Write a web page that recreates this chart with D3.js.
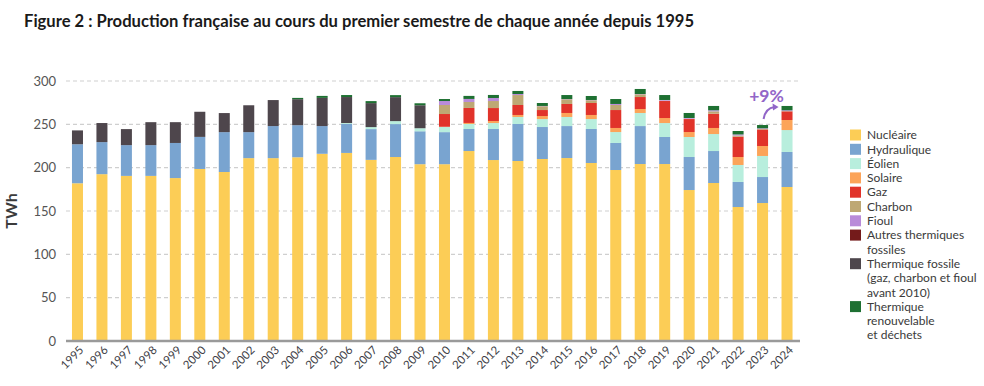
<!DOCTYPE html>
<html>
<head>
<meta charset="utf-8">
<script src="https://cdn.jsdelivr.net/npm/d3@7"></script>
<style>
  body { margin: 0; background: #fff; }
  svg text { font-family: Lato, "Open Sans", sans-serif; }
</style>
</head>
<body>
<div id="viz"></div>
<script>
// years and values (TWh)
var years = ["1995","1996","1997","1998","1999","2000","2001","2002","2003","2004",
  "2005","2006","2007","2008","2009","2010","2011","2012","2013","2014",
  "2015","2016","2017","2018","2019","2020","2021","2022","2023","2024"];

var nucleaire   = [182,192.5,190.5,190.5,188,198.5,195,211,211,212,216,217,209,212.3,204,
                   204,219.2,208.8,207.7,210,211.1,205.4,197.3,204.2,204.2,174.2,182.3,154.6,159.2,177.7];
var hydraulique = [45,37,35.5,35.5,40.5,37,46,30,37,37,32,33.5,35.5,38,38,
                   37,25.4,35.8,42.7,36.9,36.9,39.2,31.2,43.8,31.2,38.1,36.9,28.9,30,40.4];
var eolien      = [0,0,0,0,0,0,0,0,0,0,0,1,2.3,3.4,3.5,
                   5.9,5.8,6.9,8.1,9.2,10.5,11.5,12.6,15.1,16.1,23.1,19.6,19.6,24.3,25.3];
var solaire     = [0,0,0,0,0,0,0,0,0,0,0,0,0,0,0,
                   0.3,1.2,2.3,2.3,3.5,4.6,4.7,4.7,4.6,5.8,5.7,7,9.2,11.5,11.6];
var gaz         = [0,0,0,0,0,0,0,0,0,0,0,0,0,0,0,
                   14.7,17.3,15,11.5,6.9,10.4,13.8,20.7,13.8,19.6,15,16.5,23.5,19.1,10];
var charbon     = [0,0,0,0,0,0,0,0,0,0,0,0,0,0,0,
                   10.4,6.9,8.1,11.5,4.4,5.4,3.2,5.8,3.2,0.4,0.4,2.7,1.3,0.6,0.3];
var fioul       = [0,0,0,0,0,0,0,0,0,0,0,0,0,0,0,
                   4.6,3.5,3.5,1.2,0.3,0.3,0.3,1.2,0.3,0.8,0.8,1.2,1.2,0.7,0.9];
var autresFoss  = [0,0,0,0,0,0,0,0,0,0,0,0,0,0,0,
                   0,0,0,0,0,0,0,0,0,0,0,0,0,0,0];
var thermFoss   = [16,22,18.5,26.5,24,29,22,31,30,30,32.5,30,27.7,27.7,26.5,
                   0,0,0,0,0,0,0,0,0,0,0,0,0,0,0];
var thermRenouv = [0,0,0,0,0,0,0,0,0,1.5,2.3,2.3,2.3,2.3,2.3,
                   2.3,3.5,3.5,3.5,3.4,4.6,4.6,5.7,5.8,5.7,5.8,5,4,3.8,5];

var seriesNames = ["Nucléaire","Hydraulique","Éolien","Solaire","Gaz","Charbon","Fioul",
  "Autres thermiques fossiles","Thermique fossile (gaz, charbon et fioul avant 2010)",
  "Thermique renouvelable et déchets"];
var seriesValues = [nucleaire,hydraulique,eolien,solaire,gaz,charbon,fioul,autresFoss,thermFoss,thermRenouv];
var colors = ["#fccd56","#79a4d0","#b8eedd","#fca459","#e1332a","#bea874","#b98bd9","#741b1b","#4e464c","#1e7032"];

// legend text split into lines like the picture
var legendLines = [["Nucléaire"],["Hydraulique"],["Éolien"],["Solaire"],["Gaz"],["Charbon"],["Fioul"],
  ["Autres thermiques","fossiles"],["Thermique fossile","(gaz, charbon et fioul","avant 2010)"],
  ["Thermique","renouvelable","et déchets"]];

var yTicks = [0,50,100,150,200,250,300];

var W = 984, H = 386;
var svg = d3.select("#viz").append("svg").attr("width", W).attr("height", H);

svg.append("text")
    .attr("x", 24).attr("y", 27)
    .style("font-size", "16.6px").style("font-weight", "bold").style("fill", "#1a1a1a")
    .text("Figure 2 : Production française au cours du premier semestre de chaque année depuis 1995");

var x = d3.scaleBand().domain(years).range([66, 798.5]).paddingInner(0.55).paddingOuter(0.244);
var y = d3.scaleLinear().domain([0, 300]).range([341, 81]);

// grid
svg.append("g").selectAll("line").data(yTicks.slice(1)).enter().append("line")
    .attr("x1", 66).attr("x2", 800)
    .attr("y1", function(d){ return y(d); }).attr("y2", function(d){ return y(d); })
    .style("stroke", "#cfcfcf").style("stroke-width", 1.2).style("stroke-dasharray", "4,3");

// y axis labels
var yAxis = svg.append("g").attr("transform", "translate(56,0)")
    .call(d3.axisLeft(y).tickValues(yTicks).tickSize(0).tickPadding(0));
yAxis.select(".domain").remove();
yAxis.selectAll("text").style("font-size", "13px").style("fill", "#555").style("font-family", "Lato, sans-serif");

svg.append("text")
    .attr("transform", "translate(17,211) rotate(-90)")
    .attr("text-anchor", "middle")
    .style("font-size", "16px").style("font-weight", "bold").style("fill", "#3b3b3b")
    .text("TWh");

// stacked bars
var rows = years.map(function(yr, i){
  var r = { year: yr };
  seriesNames.forEach(function(n, k){ r[n] = seriesValues[k][i]; });
  return r;
});
var stacked = d3.stack().keys(seriesNames)(rows);

svg.append("g").selectAll("g").data(stacked).enter().append("g")
    .attr("fill", function(d, i){ return colors[i]; })
  .selectAll("rect").data(function(d){ return d; }).enter().append("rect")
    .attr("x", function(d){ return x(d.data.year); })
    .attr("width", x.bandwidth())
    .attr("y", function(d){ return y(d[1]); })
    .attr("height", function(d){ return y(d[0]) - y(d[1]); });

// x axis
var xAxis = svg.append("g").attr("transform", "translate(0,341)")
    .call(d3.axisBottom(x).tickSize(0).tickPadding(0));
xAxis.select(".domain").attr("d", "M66,0H800").style("stroke", "#9a9a9a").style("stroke-width", 2.5);
xAxis.selectAll("text")
    .attr("transform", "translate(4,7) rotate(-45)")
    .attr("text-anchor", "end").attr("dy", "0.35em").attr("y", 0).attr("x", 0)
    .style("font-size", "11.5px").style("fill", "#3f3f48").style("font-family", "Lato, sans-serif");

// legend
var lg = svg.append("g");
var lineH = 14.3, ly = 135;
legendLines.forEach(function(lines, i){
  lg.append("rect").attr("x", 850).attr("y", ly - 5.5).attr("width", 11).attr("height", 11).attr("fill", colors[i]);
  lines.forEach(function(t, j){
    lg.append("text").attr("x", 867).attr("y", ly + j * lineH).attr("dy", "0.35em")
      .style("font-size", "12px").style("fill", "#3a3a3a").text(t);
  });
  ly += lines.length * lineH;
});

// +9% annotation between 2023 and 2024
var t23 = d3.sum(seriesValues, function(s){ return s[28]; });
var cx = x("2023") + x.bandwidth() / 2;
var ay = y(t23) - 6;
svg.append("text").attr("x", cx + 4).attr("y", ay - 17)
    .attr("text-anchor", "middle")
    .style("font-size", "17.5px").style("font-weight", "bold").style("fill", "#9266c8")
    .text("+9%");
svg.append("path")
    .attr("d", "M" + (cx + 1) + "," + ay + " Q" + (cx + 3) + "," + (ay - 11) + " " + (cx + 12) + "," + (ay - 12))
    .style("fill", "none").style("stroke", "#9266c8").style("stroke-width", 2);
svg.append("path")
    .attr("d", "M" + (cx + 16) + "," + (ay - 12) + " L" + (cx + 10) + "," + (ay - 15.5) + " L" + (cx + 10.5) + "," + (ay - 8.5) + "Z")
    .style("fill", "#9266c8");
</script>
</body>
</html>
